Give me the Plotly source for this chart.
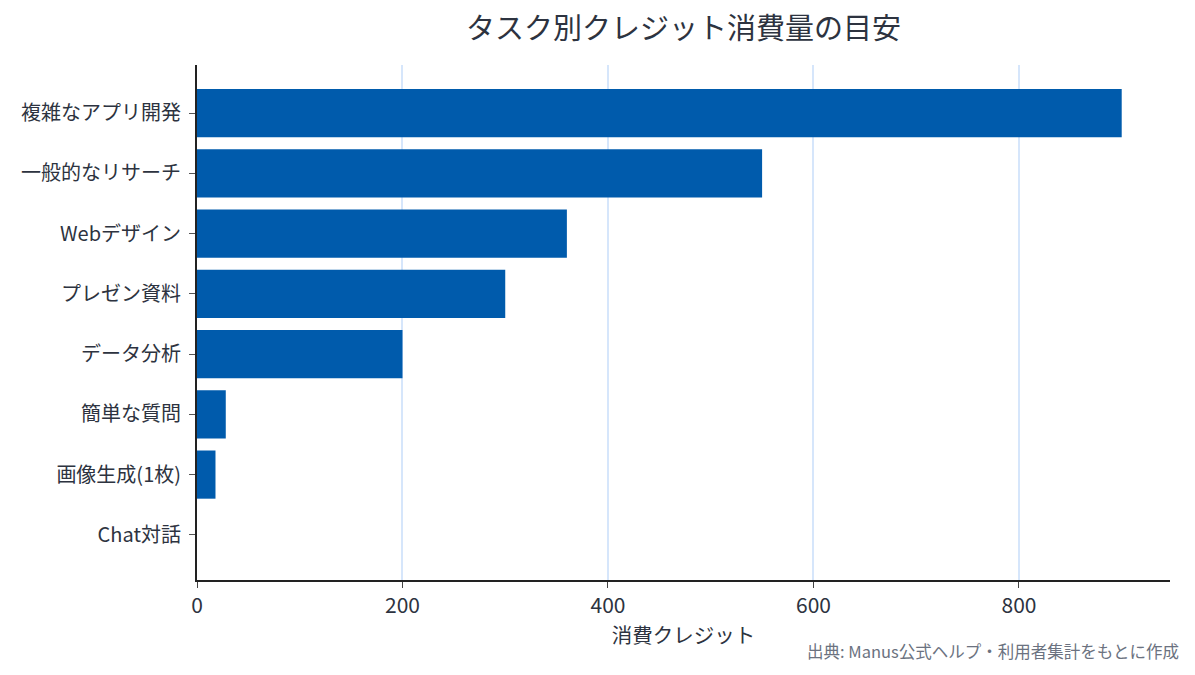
import plotly.graph_objects as go

categories = ["複雑なアプリ開発", "一般的なリサーチ", "Webデザイン", "プレゼン資料", "データ分析", "簡単な質問", "画像生成(1枚)", "Chat対話"]
credits = [900, 550, 360, 300, 200, 28, 18, 0]

title_text = "タスク別クレジット消費量の目安"
x_title = "消費クレジット"
source_text = "出典: Manus公式ヘルプ・利用者集計をもとに作成"

font_family = "Noto Sans CJK JP, Noto Sans, sans-serif"
text_color = "#2d3340"

fig = go.Figure(go.Bar(
    x=credits,
    y=categories,
    orientation="h",
    marker=dict(color="#005bac", line=dict(width=0)),
))

fig.update_layout(
    width=1195,
    height=675,
    margin=dict(l=197, r=25, t=65, b=95),
    paper_bgcolor="white",
    plot_bgcolor="white",
    font=dict(family=font_family, size=20, color=text_color),
    title=dict(text=title_text, xref="paper", x=0.5, xanchor="center", y=0.958, yanchor="middle",
               font=dict(size=29, color=text_color)),
    bargap=0.2,
    showlegend=False,
    annotations=[dict(
        text=source_text, xref="paper", yref="paper", x=1.011, y=-0.138,
        xanchor="right", yanchor="middle", showarrow=False,
        font=dict(size=16.5, color="#6b7280"),
    )],
)

fig.update_xaxes(
    range=[0, 947],
    dtick=200,
    showgrid=True, gridcolor="#d6e6fb", gridwidth=1.5,
    showline=True, linecolor="#222222", linewidth=2,
    ticks="outside", ticklen=6, tickcolor="#444444",
    zeroline=False,
    title=dict(text=x_title, font=dict(size=20.5, color=text_color), standoff=6),
    tickfont=dict(size=21, color=text_color),
)
fig.update_yaxes(
    range=[7.75, -0.8],
    showgrid=False,
    showline=True, linecolor="#222222", linewidth=2,
    ticks="outside", ticklen=6, tickcolor="#555555",
    ticklabelstandoff=4,
    tickfont=dict(size=20, color=text_color),
    categoryorder="array", categoryarray=categories,
)

fig.write_html("out.html")
